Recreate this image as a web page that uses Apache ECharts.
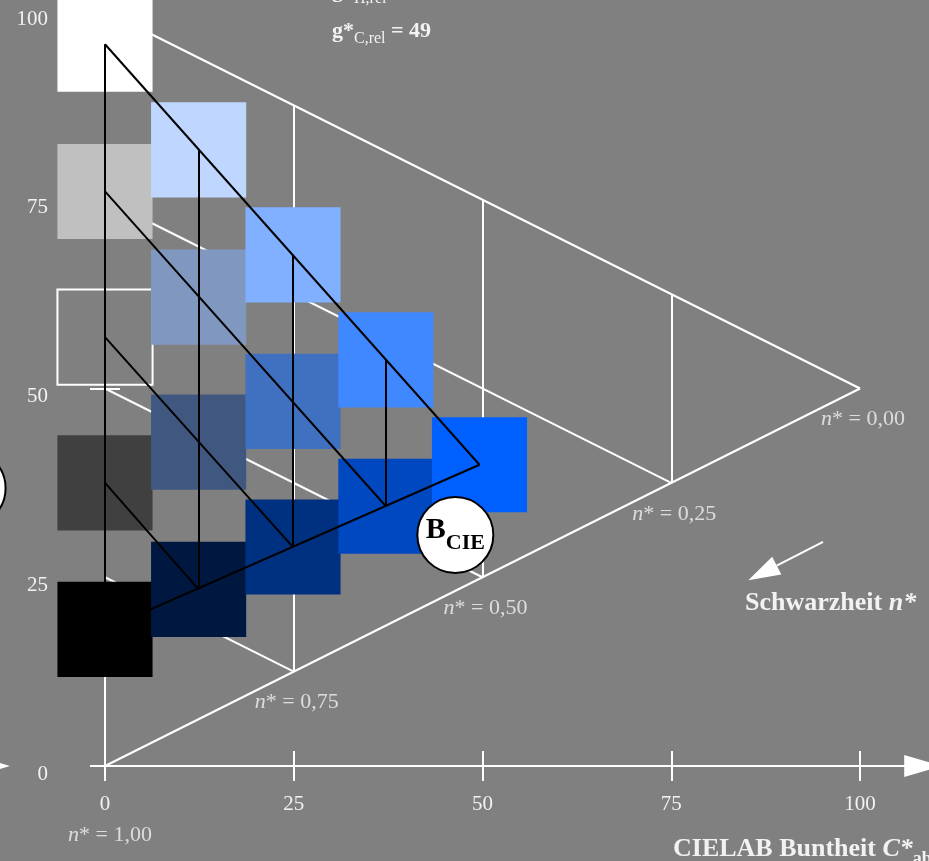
<!DOCTYPE html>
<html>
<head>
<meta charset="utf-8">
<title>CIELAB Buntheit – Schwarzheit</title>
<script src="https://cdn.jsdelivr.net/npm/echarts@6/dist/echarts.min.js"></script>
<style>
  html, body { margin: 0; padding: 0; background: #808080; }
  #main { width: 929px; height: 861px; }
</style>
</head>
<body>
<div id="main"></div>
<script>
// axis ticks
const xTicks = [0, 25, 50, 75, 100];
const yTicks = [0, 25, 50, 75, 100];
const yTickMarks = [0, 50];

// colour samples: chroma C*, lightness L*, fill (null = outline only)
const sqC = [0, 0, 0, 0, 0, 12.4, 12.4, 12.4, 12.4, 24.9, 24.9, 24.9, 37.2, 37.2, 49.6];
const sqL = [95.6, 76.1, 56.8, 37.5, 18.1, 81.6, 62.1, 42.9, 23.4, 67.7, 48.3, 29.0, 53.8, 34.4, 39.9];
const sqColor = ['#ffffff', '#c0c0c0', null, '#404040', '#000000',
  '#bfd7ff', '#8098c0', '#405880', '#001840',
  '#80b0ff', '#4070c0', '#003080',
  '#4088ff', '#0048c0',
  '#0060ff'];

// white frame: triangle, constant chroma and constant blackness lines [C1, L1, C2, L2]
const frameSegs = [
  [0, 100, 100, 50], [0, 0, 100, 50],
  [25, 12.5, 25, 87.5], [50, 25, 50, 75], [75, 37.5, 75, 62.5],
  [0, 75, 75, 37.5], [0, 50, 50, 25], [0, 25, 25, 12.5]
];

// black sample triangle grid [C1, L1, C2, L2]
const gridSegs = [
  [0, 95.6, 0, 18.1], [0, 95.6, 49.6, 39.9], [0, 18.1, 49.6, 39.9],
  [12.4, 81.6, 12.4, 23.4], [24.9, 67.7, 24.9, 29.0], [37.2, 53.8, 37.2, 34.4],
  [0, 76.1, 37.2, 34.4], [0, 56.8, 24.9, 29.0], [0, 37.5, 12.4, 23.4]
];

// blackness labels along the lower edge
const nStarText = ['0,00', '0,25', '0,50', '0,75', '1,00'];
const nStarC = [100, 75, 50, 25, 0];
const nStarL = [50, 37.5, 25, 12.5, 0];

// circles: B_CIE and the cut one at the left edge
const bcie = [46.4, 30.6];
const leftCircle = [-18.2, 36.8];

// arrows [tailC, tailL, tipC, tipL]
const arrows = [
  [95.1, 29.7, 85.2, 24.6],
  [-30, 0, -12.6, 0]
];

const serif = 'Liberation Serif';
const txt = '#f2f2f2';
const chart = echarts.init(document.getElementById('main'));

const segData = segs => segs.map(s => ({ coords: [[s[0], s[1]], [s[2], s[3]]] }));

function squareItem(params, api) {
  const c = api.coord([api.value(0), api.value(1)]);
  const s = api.size([12.6, 12.6]);
  const col = sqColor[params.dataIndex];
  return {
    type: 'rect',
    shape: { x: c[0] - s[0] / 2, y: c[1] - s[1] / 2, width: s[0], height: s[1] },
    style: col ? { fill: col } : { fill: 'none', stroke: '#ffffff', lineWidth: 2 }
  };
}

function arrowItem(params, api) {
  const tail = api.coord([api.value(0), api.value(1)]);
  const tip = api.coord([api.value(2), api.value(3)]);
  const dx = tip[0] - tail[0], dy = tip[1] - tail[1];
  const len = Math.hypot(dx, dy);
  const ux = dx / len, uy = dy / len;
  const bx = tip[0] - ux * 32, by = tip[1] - uy * 32;
  return {
    type: 'group',
    children: [
      { type: 'line', shape: { x1: tail[0], y1: tail[1], x2: bx, y2: by }, style: { stroke: '#ffffff', lineWidth: 2 } },
      { type: 'polygon', shape: { points: [tip, [bx - uy * 10, by + ux * 10], [bx + uy * 10, by - ux * 10]] }, style: { fill: '#ffffff' } }
    ]
  };
}

// g* header lines share one style
const gRich = {
  g: { fontSize: 22, fontWeight: 'bold', fontFamily: serif, fill: txt, verticalAlign: 'bottom', padding: [0, 0, 5, 0] },
  s: { fontSize: 16, fontFamily: serif, fill: txt, verticalAlign: 'bottom' },
  v: { fontSize: 22, fontWeight: 'bold', fontFamily: serif, fill: txt, verticalAlign: 'bottom', padding: [0, 0, 5, 0] }
};

const option = {
  backgroundColor: '#808080',
  animation: false,
  grid: { left: 105, top: 11, width: 817.7, height: 755, outerBoundsMode: 'none' },
  xAxis: [
    {
      type: 'value', min: 0, max: 108.3, position: 'bottom',
      splitLine: { show: false },
      axisLine: { lineStyle: { color: '#ffffff', width: 2 }, symbol: ['none', 'triangle'], symbolSize: [22, 37] },
      axisTick: { customValues: xTicks, length: 15, lineStyle: { color: '#ffffff', width: 2 } },
      axisLabel: { customValues: xTicks, margin: 28, fontSize: 21, color: txt, fontFamily: serif }
    },
    {
      type: 'value', min: 0, max: 108.3, position: 'bottom',
      splitLine: { show: false },
      axisLine: { show: false },
      axisTick: { inside: true, customValues: xTicks, length: 15, lineStyle: { color: '#ffffff', width: 2 } },
      axisLabel: { show: false }
    }
  ],
  yAxis: [
    {
      type: 'value', min: 0, max: 100, position: 'left',
      splitLine: { show: false },
      axisLine: { lineStyle: { color: '#ffffff', width: 2 } },
      axisTick: { customValues: yTickMarks, length: 15, lineStyle: { color: '#ffffff', width: 2 } },
      axisLabel: { customValues: yTicks, margin: 57, fontSize: 21, color: txt, fontFamily: serif, verticalAlign: 'top', lineHeight: 16 }
    },
    {
      type: 'value', min: 0, max: 100, position: 'left',
      splitLine: { show: false },
      axisLine: { show: false },
      axisTick: { inside: true, customValues: yTickMarks, length: 15, lineStyle: { color: '#ffffff', width: 2 } },
      axisLabel: { show: false }
    }
  ],
  graphic: [
    {
      type: 'text', x: 332, y: 7, z: 10,
      style: { text: '{g|g*}{s|H,rel}{v| = 42}', verticalAlign: 'bottom', fill: txt, rich: gRich }
    },
    {
      type: 'text', x: 332, y: 47, z: 10,
      style: { text: '{g|g*}{s|C,rel}{v| = 49}', verticalAlign: 'bottom', fill: txt, rich: gRich }
    },
    {
      type: 'text', x: 745, y: 603, z: 10,
      style: {
        text: '{b|Schwarzheit }{i|n*}', verticalAlign: 'middle', fill: txt,
        rich: {
          b: { fontSize: 26, fontWeight: 'bold', fontFamily: serif, fill: txt },
          i: { fontSize: 26, fontWeight: 'bold', fontStyle: 'italic', fontFamily: serif, fill: txt }
        }
      }
    },
    {
      type: 'text', x: 673, y: 852, z: 10,
      style: {
        text: '{b|CIELAB Buntheit }{i|C*}{s|ab}', verticalAlign: 'middle', fill: txt,
        rich: {
          b: { fontSize: 26, fontWeight: 'bold', fontFamily: serif, fill: txt, verticalAlign: 'bottom', padding: [0, 0, 6, 0] },
          i: { fontSize: 26, fontWeight: 'bold', fontStyle: 'italic', fontFamily: serif, fill: txt, verticalAlign: 'bottom', padding: [0, 0, 6, 0] },
          s: { fontSize: 18, fontWeight: 'bold', fontFamily: serif, fill: txt, verticalAlign: 'bottom' }
        }
      }
    }
  ],
  series: [
    {
      type: 'lines', coordinateSystem: 'cartesian2d', z: 1,
      lineStyle: { color: '#ffffff', width: 2, opacity: 1 },
      data: segData(frameSegs)
    },
    {
      type: 'custom', z: 2, renderItem: squareItem,
      data: sqC.map((c, i) => [c, sqL[i]])
    },
    {
      type: 'lines', coordinateSystem: 'cartesian2d', z: 3,
      lineStyle: { color: '#000000', width: 2, opacity: 1 },
      data: segData(gridSegs)
    },
    {
      type: 'custom', z: 4, renderItem: arrowItem,
      data: arrows
    },
    {
      type: 'scatter', z: 5, clip: false, symbolSize: 76,
      itemStyle: { color: '#ffffff', borderColor: '#000000', borderWidth: 2, opacity: 1 },
      label: {
        show: true, position: 'inside', color: '#000000',
        formatter: p => p.dataIndex === 0 ? '{b|B}{s|CIE}' : '',
        rich: {
          b: { fontSize: 30, fontWeight: 'bold', fontFamily: serif, color: '#000000', verticalAlign: 'bottom', padding: [0, 0, 9, 0] },
          s: { fontSize: 22, fontWeight: 'bold', fontFamily: serif, color: '#000000', verticalAlign: 'bottom' }
        }
      },
      data: [bcie, leftCircle]
    },
    {
      type: 'scatter', z: 5, clip: false, symbolSize: 0,
      label: {
        show: true, position: 'inside',
        formatter: p => '{i|n}{r|* = ' + nStarText[p.dataIndex] + '}',
        rich: {
          i: { fontSize: 22, fontStyle: 'italic', fontFamily: serif, color: txt },
          r: { fontSize: 22, fontFamily: serif, color: txt }
        }
      },
      data: nStarC.map((c, i) => ({
        value: [c, nStarL[i]],
        label: { offset: i === 4 ? [5, 69] : [3, 31] }
      }))
    }
  ]
};

chart.setOption(option);
</script>
</body>
</html>
